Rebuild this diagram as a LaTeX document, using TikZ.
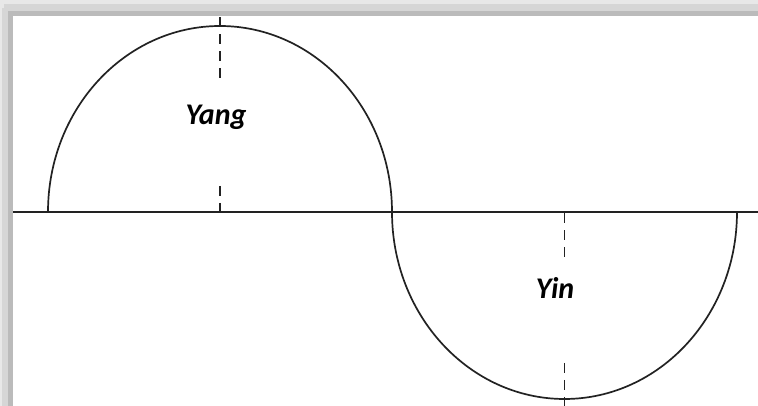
\documentclass[tikz,border=0pt]{standalone}
\usepackage{fontspec}
\setsansfont{Carlito}
\usepackage{xcolor}
\usepackage{tikz}
\definecolor{frameA}{HTML}{E8E8E8}
\definecolor{frameB}{HTML}{D6D6D6}
\definecolor{frameC}{HTML}{BBBBBB}
\definecolor{inkline}{HTML}{222222}
\tikzset{
  axisline/.style={draw=inkline, line width=2.4pt},
  curveline/.style={draw=inkline, line width=1.7pt},
  guideline/.style={draw=inkline, line width=1.7pt, dash pattern=on 10pt off 7pt},
  polelabel/.style={font=\fontsize{30}{32}\selectfont\sffamily\bfseries\itshape,
                    inner sep=0pt, anchor=base}
}

\begin{document}
\begin{tikzpicture}[x=1pt, y=1pt]
    \useasboundingbox (0,0) rectangle (758,406);
    \clip (0,0) rectangle (758,406);
    \def\xA{220} \def\xB{564.5} \def\yAx{194}

    % Frame shadow
    \fill[frameA] (0,0) rectangle (758,406);
    \fill[frameB] (4,395) rectangle (758,402);
    \fill[frameB] (2,0) rectangle (8,398);
    \fill[frameC] (8,390) rectangle (758,395);
    \fill[frameC] (8,0) rectangle (13,395);
    \fill[white] (13,0) rectangle (758,390);

    % Axis
    \coordinate (axisL) at (13,\yAx);
    \coordinate (axisR) at (758,\yAx);
    \draw[axisline] (axisL) -- (axisR);

    % Yang half
    \coordinate (yangL) at (48,\yAx);
    \draw[curveline] (yangL) arc[start angle=180, end angle=0, x radius=172, y radius=186];
    \node[polelabel] (yang) at (216,281) {Yang};
    \coordinate (yangtop)  at (\xA,390);
    \coordinate (yangup)   at (\xA,328);
    \coordinate (yangdown) at (\xA,220);
    \coordinate (yangaxis) at (\xA,\yAx);
    \draw[guideline] (yangup) -- (yangtop);
    \draw[guideline] (yangdown) -- (yangaxis);

    % Yin half
    \coordinate (yinL) at (392,\yAx);
    \draw[curveline] (yinL) arc[start angle=180, end angle=360, x radius=172.5, y radius=187];
    \node[polelabel] (yin) at (555,107) {Yin};
    \coordinate (yinaxis) at (\xB,\yAx);
    \coordinate (yinup)   at (\xB,149);
    \coordinate (yindown) at (\xB,43);
    \coordinate (yinbot)  at (\xB,0);
    \draw[guideline] (yinup) -- (yinaxis);
    \draw[guideline] (yindown) -- (yinbot);
\end{tikzpicture}
\end{document}
